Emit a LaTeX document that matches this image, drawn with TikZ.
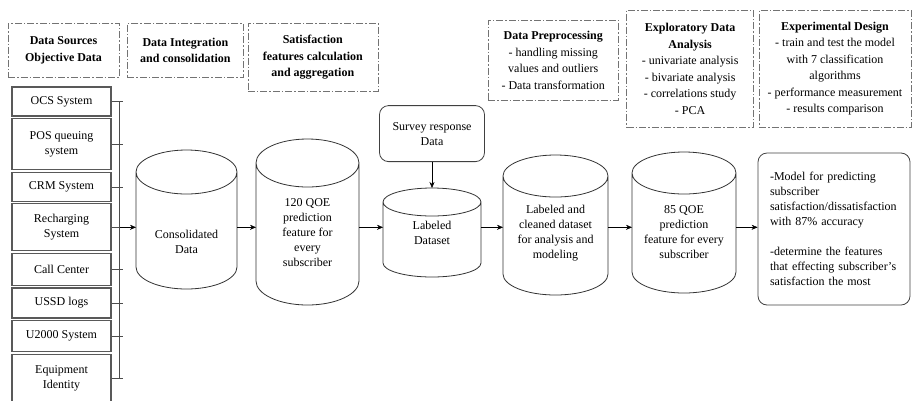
\documentclass[tikz,border=0pt]{standalone}
\usepackage{fontspec}
\setmainfont{Liberation Serif}
\usepackage{tikz}
\usetikzlibrary{positioning}
\usetikzlibrary{arrows.meta}
\usetikzlibrary{calc}

% empty strut line above the text of a store, pushes the visible text down
\newcommand{\pushdown}[1]{\strut\\[#1]}

\tikzset{
    srcbox/.style={draw=black!65, line width=1.1pt, minimum width=99pt, align=center, inner sep=1pt},
    stagebox/.style={draw=black!55, dash pattern=on 7pt off 2pt on 1.5pt off 2pt, align=center,
        inner sep=1pt, font=\fontsize{12}{16.5}\selectfont},
    store/.style={align=center, inner sep=1pt, outer sep=0pt},
    canline/.style={draw=black!80, line width=0.8pt},
    roundbox/.style={draw=black!75, line width=0.8pt, rounded corners=9pt},
}

\begin{document}
\begin{tikzpicture}[>={Stealth[length=6pt, width=5pt]}, x=1pt, y=-1pt, font=\fontsize{12}{15}\selectfont]
    \useasboundingbox (0,0) rectangle (912,400);

    % data sources
    \node[srcbox, minimum height=29pt] (ocs) at (61.5,101.5) {OCS System};
    \node[srcbox, minimum height=51pt, below=1.5pt of ocs] (pos) {POS queuing\\system};
    \node[srcbox, minimum height=29pt, below=1.5pt of pos] (crm) {CRM System};
    \node[srcbox, minimum height=47pt, below=1.5pt of crm] (rech) {Recharging\\System};
    \node[srcbox, minimum height=32pt, below=1.5pt of rech] (call) {Call Center};
    \node[srcbox, minimum height=30pt, below=1.5pt of call] (ussd) {USSD logs};
    \node[srcbox, minimum height=31pt, below=1.5pt of ussd] (utk) {U2000 System};
    \node[srcbox, minimum height=48pt, below=1.5pt of utk] (equip) {Equipment\\Identity};

    \foreach \s in {ocs,pos,crm,rech,call,ussd,utk,equip}
        \draw[black!70] (\s.east) -- ++(11,0);
    \draw[black!70] ([xshift=8pt]ocs.east) -- ([xshift=8pt]equip.east);
    \coordinate (flow) at ([xshift=8pt]rech.east);

    % pipeline
    \node[store, minimum width=101pt, minimum height=139pt] (cons) at (186.5,219.5) {\pushdown{27pt}Consolidated\\Data};
    \node[store, minimum width=103pt, minimum height=166pt] (qoe) at (307.5,222)
        {\pushdown{4pt}120 QOE\\prediction\\feature for\\every\\subscriber};
    \node[store, minimum width=98pt, minimum height=89pt] (lab) at (432,232.5) {Labeled\\Dataset};
    \node[store, minimum width=105pt, minimum height=140pt] (clean) at (555.5,225)
        {\pushdown{0pt}Labeled and\\cleaned dataset\\for analysis and\\modeling};
    \node[store, minimum width=104pt, minimum height=141pt] (qoef) at (684,222.5)
        {\pushdown{1pt}85 QOE\\prediction\\feature for every\\subscriber};
    \node[roundbox, minimum width=152pt, minimum height=152pt, align=left, text width=128pt] (model) at (834,229)
        {-Model for predicting\\subscriber\\satisfaction/dissatisfaction\\with 87\% accuracy\\[15pt]-determine the features\\that effecting subscriber's\\satisfaction the most};
    \node[roundbox, minimum width=105pt, minimum height=56pt, above=26pt of lab, align=center] (survey) {Survey response\\Data};

    % cylinder outlines round the stores
    \foreach \c/\r in {cons/22, qoe/24, lab/14, clean/21, qoef/21}
        \draw[canline] let \p1=(\c.west), \p2=(\c.east), \n1={(\x2-\x1)/2} in
            ([yshift=-\r pt]\c.north west) -- ([yshift=\r pt]\c.south west)
            arc[start angle=180, end angle=360, x radius=\n1, y radius=\r pt]
            -- ([yshift=-\r pt]\c.north east)
            ([yshift=-\r pt]\c.north) ellipse[x radius=\n1, y radius=\r pt];

    \draw[->] (flow) -- (flow -| cons.west);
    \draw[->] (flow -| cons.east) -- (flow -| qoe.west);
    \draw[->] (flow -| qoe.east) -- (flow -| lab.west);
    \draw[->] (flow -| lab.east) -- (flow -| clean.west);
    \draw[->] (flow -| clean.east) -- (flow -| qoef.west);
    \draw[->] (flow -| qoef.east) -- (flow -| model.west);
    \draw[->] (survey) -- (lab);

    % stages
    \node[stagebox, minimum width=111pt, minimum height=54pt, anchor=north] (hsrc) at (63.5,23)
        {\textbf{Data Sources}\\\textbf{Objective Data}};
    \node[stagebox, minimum width=116pt, minimum height=54pt, right=8pt of hsrc.north east, anchor=north west] (hint)
        {\textbf{Data Integration}\\\textbf{and consolidation}};
    \node[stagebox, minimum width=130pt, minimum height=68pt, right=4pt of hint.north east, anchor=north west] (hsat)
        {\textbf{Satisfaction}\\\textbf{features calculation}\\\textbf{and aggregation}};
    \node[stagebox, minimum width=130pt, minimum height=80pt, right=110pt of hsat.north east, anchor=north west, yshift=3pt] (hpre)
        {\textbf{Data Preprocessing}\\- handling missing\\values and outliers\\- Data transformation};
    \node[stagebox, minimum width=127pt, minimum height=117pt, right=8pt of hpre.north east, anchor=north west, yshift=10pt] (heda)
        {\textbf{Exploratory Data}\\\textbf{Analysis}\\- univariate analysis\\- bivariate analysis\\- correlations study\\- PCA};
    \node[stagebox, minimum width=152pt, minimum height=117pt, right=5pt of heda.north east, anchor=north west] (hexp)
        {\textbf{Experimental Design}\\- train and test the model\\with 7 classification\\algorithms\\- performance measurement\\- results comparison};
\end{tikzpicture}
\end{document}
